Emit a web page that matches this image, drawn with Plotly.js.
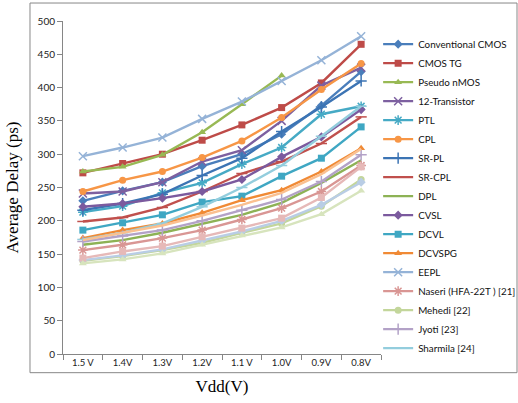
<!DOCTYPE html>
<html>
<head>
<meta charset="utf-8">
<script src="https://cdn.plot.ly/plotly-3.0.1.min.js"></script>
<style>html,body{margin:0;padding:0;background:#fff;}#chart{width:518px;height:403px;}</style>
</head>
<body>
<div id="chart"></div>
<script>
const vdd = ["1.5 V","1.4V","1.3V","1.2V","1.1 V","1.0V","0.9V","0.8V"];

const conventionalCMOS = [230, 245, 258, 282, 300, 330, 373, 424];
const cmosTG           = [272, 286, 300, 321, 344, 370, 407, 465];
const pseudoNMOS       = [274, 281, 299, 333, 375, 418];
const twelveTransistor = [241, 244, 258, 289, 306, 350, 403, 430];
const ptl              = [213, 222, 242, 257, 285, 310, 360, 372];
const cpl              = [244, 261, 274, 295, 320, 355, 397, 436];
const srPL             = [216, 226, 240, 268, 294, 334, 371, 410];
const srCPL            = [199, 205, 220, 244, 271, 289, 316, 356];
const dpl              = [164, 171, 182, 196, 209, 227, 257, 291];
const cvsl             = [221, 226, 234, 244, 262, 296, 326, 367];
const dcvl             = [186, 197, 209, 228, 237, 267, 294, 341];
const dcvspg           = [174, 186, 196, 212, 231, 246, 274, 309];
const eepl             = [297, 310, 325, 353, 379, 410, 441, 477];
const naseri           = [156, 164, 174, 186, 202, 219, 244, 283];
const mehedi           = [140, 147, 156, 167, 182, 196, 222, 262];
const jyoti            = [169, 177, 186, 200, 216, 232, 259, 299];
const sharmila         = [172, 182, 196, 221, 250, 283, 327, 372];
const series18         = [171, 182, 193, 208, 224, 242, 270, 308];
const series19         = [141, 148, 157, 170, 184, 200, 224, 258];
const series20         = [144, 154, 162, 176, 189, 204, 235, 281];
const series21         = [136, 142, 151, 164, 178, 190, 210, 245];

const seriesList = [
  {name:"Conventional CMOS", y:conventionalCMOS, color:"#4A7EBB", symbol:"diamond"},
  {name:"CMOS TG", y:cmosTG, color:"#BE4B48", symbol:"square"},
  {name:"Pseudo nMOS", y:pseudoNMOS, color:"#98B954", symbol:"triangle-up"},
  {name:"12-Transistor", y:twelveTransistor, color:"#7D60A0", symbol:"x-thin-open"},
  {name:"PTL", y:ptl, color:"#46AAC5", symbol:"asterisk-open"},
  {name:"CPL", y:cpl, color:"#F79646", symbol:"circle"},
  {name:"SR-PL", y:srPL, color:"#3C74B4", symbol:"cross-thin-open"},
  {name:"SR-CPL", y:srCPL, color:"#C0504D", symbol:"line-ew-open"},
  {name:"DPL", y:dpl, color:"#8DB255", symbol:null},
  {name:"CVSL", y:cvsl, color:"#7B5A9E", symbol:"diamond"},
  {name:"DCVL", y:dcvl, color:"#3FA7C3", symbol:"square"},
  {name:"DCVSPG", y:dcvspg, color:"#F08A35", symbol:"triangle-up"},
  {name:"EEPL", y:eepl, color:"#95B3D7", symbol:"x-thin-open"},
  {name:"Naseri (HFA-22T ) [21]", y:naseri, color:"#D99694", symbol:"asterisk-open"},
  {name:"Mehedi [22]", y:mehedi, color:"#C3D69B", symbol:"circle"},
  {name:"Jyoti [23]", y:jyoti, color:"#B3A2C7", symbol:"cross-thin-open"},
  {name:"Sharmila [24]", y:sharmila, color:"#93CDDD", symbol:"line-ew-open"},
  {name:"Series 18", y:series18, color:"#FAC090", symbol:null, hide:true},
  {name:"Series 19", y:series19, color:"#B9CDE5", symbol:"diamond", hide:true},
  {name:"Series 20", y:series20, color:"#E6B9B8", symbol:"square", hide:true},
  {name:"Series 21", y:series21, color:"#D7E4BD", symbol:"triangle-up", hide:true}
];

const thin = s => !!s && (s.indexOf("thin")>=0 || s.indexOf("asterisk")>=0 || s.indexOf("line")===0);

const traces = seriesList.map(s => {
  const t = {
    type:"scatter",
    mode: s.symbol ? "lines+markers" : "lines",
    name: s.name,
    x: vdd.slice(0, s.y.length),
    y: s.y,
    showlegend: !s.hide,
    line:{color:s.color, width:2.4}
  };
  if (s.symbol) {
    t.marker = {
      symbol:s.symbol,
      size: thin(s.symbol) ? 8 : 7,
      color:s.color,
      line:{color:s.color, width: thin(s.symbol) ? 1.5 : 0}
    };
  }
  return t;
});

const layout = {
  width:518, height:403,
  margin:{l:63, r:137, t:21, b:48.7, autoexpand:false},
  paper_bgcolor:"#fff", plot_bgcolor:"#fff",
  font:{family:"Lato, 'Liberation Sans', sans-serif", size:10, color:"#222"},
  showlegend:true,
  legend:{xref:"container", x:0.73, xanchor:"left", y:0.974, yanchor:"top",
          font:{size:9.8, family:"Lato, sans-serif", color:"#111"},
          bgcolor:"rgba(0,0,0,0)", tracegroupgap:0, itemwidth:30},
  xaxis:{type:"category", categoryorder:"array", categoryarray:vdd, range:[-0.5,7.5],
         showline:true, linecolor:"#868686", linewidth:1, ticks:"outside", tickson:"boundaries",
         ticklen:5, tickcolor:"#868686", showgrid:false, zeroline:false,
         tickfont:{size:9.5, family:"Lato, sans-serif", color:"#222"},
         title:{text:"Vdd(V)", font:{family:"'Liberation Serif', 'Times New Roman', serif", size:17, color:"#000"}, standoff:12}},
  yaxis:{range:[0,500], dtick:50, showline:true, linecolor:"#868686", linewidth:1, ticks:"outside",
         ticklen:5, tickcolor:"#868686", showgrid:false, zeroline:false,
         tickfont:{size:10, family:"Lato, sans-serif", color:"#222"},
         title:{text:"Average Delay (ps)", font:{family:"'Liberation Serif', 'Times New Roman', serif", size:17, color:"#000"}, standoff:14}},
  shapes:[{type:"rect", xref:"paper", yref:"paper", x0:-0.1038, x1:1.4277, y0:-0.0561, y1:1.054,
           line:{color:"#888", width:1}, fillcolor:"rgba(0,0,0,0)", layer:"below"}]
};
Plotly.newPlot("chart", traces, layout, {staticPlot:true, displayModeBar:false});
</script>
</body>
</html>
